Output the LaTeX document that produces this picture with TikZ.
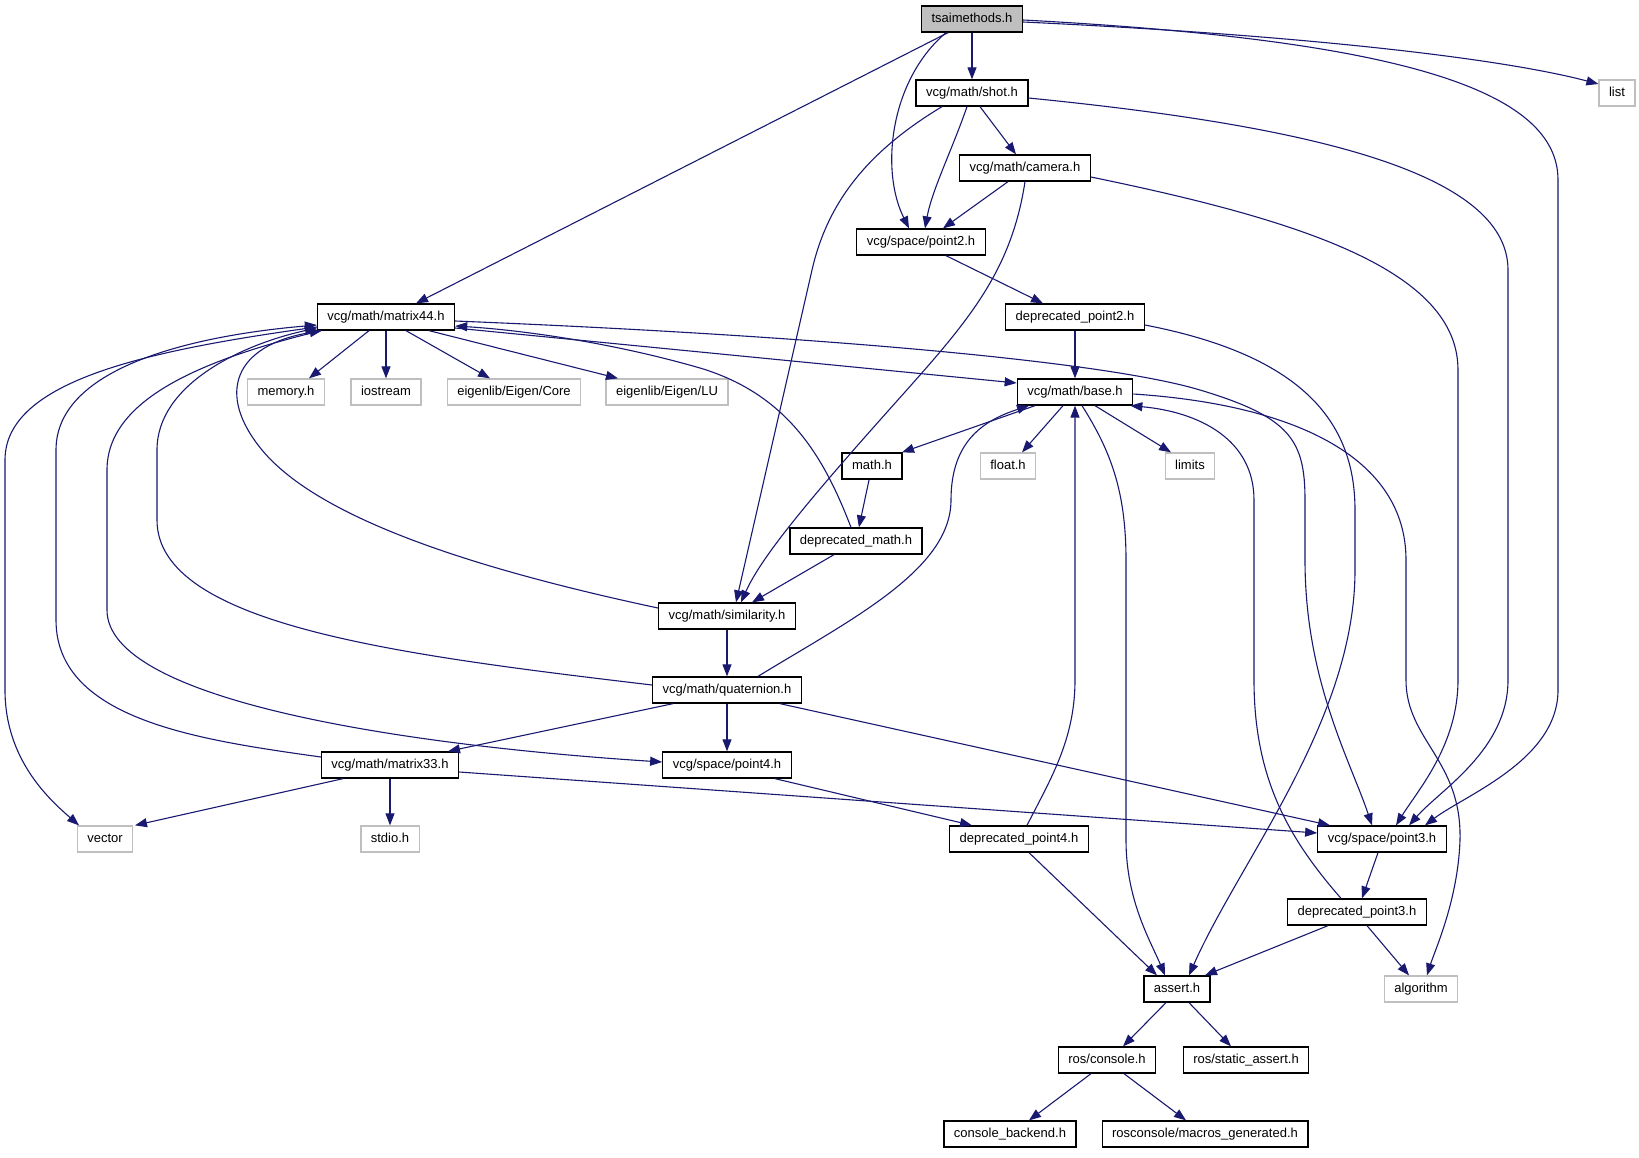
\documentclass[tikz,border=0pt]{standalone}
\usepackage{fontspec}
\setmainfont{Liberation Sans}
\usepackage{xcolor}
\usepackage{tikz}
\usetikzlibrary{arrows.meta}

\definecolor{edgeblue}{HTML}{191970}
\definecolor{sysgray}{HTML}{BFBFBF}

\begin{document}
\begin{tikzpicture}[
    x=1pt, y=-1pt,
    every node/.style={
        draw,
        rectangle,
        minimum height=26pt,
        inner xsep=10pt,
        inner ysep=0pt,
        text height=10pt,
        text depth=3pt,
        line width=1.3pt,
        font=\fontsize{13}{15}\selectfont
    },
    header/.style={fill=sysgray, draw=black},
    local/.style={draw=black},
    system/.style={draw=sysgray},
    incl/.style={draw=edgeblue, line width=1.1pt, -{Triangle[length=12pt,width=9pt]}}
]
\useasboundingbox (0,0) rectangle (1639,1157);

% Files of the graph
\node[header] (tsai) at (972,19) {tsaimethods.h};
\node[local] (shot) at (972,93) {vcg/math/shot.h};
\node[system] (list) at (1617,93) {list};
\node[local] (camera) at (1025,168) {vcg/math/camera.h};
\node[local] (ptwo) at (921,242) {vcg/space/point2.h};
\node[local] (dptwo) at (1075,317) {deprecated\_point2.h};
\node[local] (mfour) at (386,317) {vcg/math/matrix44.h};
\node[system] (memory) at (286,392) {memory.h};
\node[system] (iostream) at (386,392) {iostream};
\node[system] (core) at (514,392) {eigenlib/Eigen/Core};
\node[system] (lu) at (667,392) {eigenlib/Eigen/LU};
\node[local] (base) at (1075,392) {vcg/math/base.h};
\node[local] (mathh) at (872,466) {math.h};
\node[system] (floath) at (1008,466) {float.h};
\node[system] (limits) at (1190,466) {limits};
\node[local] (dmath) at (856,541) {deprecated\_math.h};
\node[local] (simil) at (727,616) {vcg/math/similarity.h};
\node[local] (quat) at (727,690) {vcg/math/quaternion.h};
\node[local] (mthree) at (390,765) {vcg/math/matrix33.h};
\node[local] (pfour) at (727,765) {vcg/space/point4.h};
\node[system] (vector) at (105,839) {vector};
\node[system] (stdio) at (390,839) {stdio.h};
\node[local] (dpfour) at (1019,839) {deprecated\_point4.h};
\node[local] (pthree) at (1382,839) {vcg/space/point3.h};
\node[local] (dpthree) at (1357,912) {deprecated\_point3.h};
\node[local] (assert) at (1177,989) {assert.h};
\node[system] (algorithm) at (1421,989) {algorithm};
\node[local] (console) at (1107,1060) {ros/console.h};
\node[local] (sassert) at (1246,1060) {ros/static\_assert.h};
\node[local] (backend) at (1010,1134) {console\_backend.h};
\node[local] (macros) at (1205,1134) {rosconsole/macros\_generated.h};

% tsaimethods.h
\draw[incl] ([xshift=-24pt]tsai.south) -- ([xshift=30pt]mfour.north);
\draw[incl] (tsai) -- (shot);
\draw[incl] ([xshift=-26pt]tsai.south) .. controls (890,80) and (880,170) .. ([xshift=-12pt]ptwo.north);
\draw[incl] ([yshift=-3pt]tsai.east) .. controls (1300,35) and (1500,58) .. ([yshift=9pt]list.west);
\draw[incl] ([yshift=-1pt]tsai.east) .. controls (1400,40) and (1558,90) .. (1558,180) -- (1558,690)
    .. controls (1558,760) and (1465,795) .. ([xshift=43pt]pthree.north);

% shot.h and camera.h
\draw[incl] ([xshift=8pt]shot.south) -- ([xshift=-9pt]camera.north);
\draw[incl] ([xshift=-5pt]shot.south) .. controls (952,150) and (932,190) .. ([xshift=4pt]ptwo.north);
\draw[incl] ([xshift=-30pt]shot.south) .. controls (870,150) and (828,200) .. (812,270) -- ([xshift=9pt]simil.north);
\draw[incl] ([yshift=-5pt]shot.east) .. controls (1300,125) and (1508,170) .. (1508,270) -- (1508,680)
    .. controls (1508,750) and (1440,790) .. ([xshift=27pt]pthree.north);
\draw[incl] ([xshift=-17pt]camera.south) -- ([xshift=22pt]ptwo.north);
\draw[incl] (camera.south) .. controls (1010,280) and (960,330) .. (880,420)
    .. controls (800,510) and (760,560) .. ([xshift=14pt]simil.north);
\draw[incl] ([yshift=-9pt]camera.east) .. controls (1300,220) and (1458,270) .. (1458,370) -- (1458,680)
    .. controls (1458,745) and (1418,790) .. ([xshift=14pt]pthree.north);

% point2.h
\draw[incl] ([xshift=25pt]ptwo.south) -- ([xshift=-32pt]dptwo.north);
\draw[incl] (dptwo) -- (base);
\draw[incl] ([yshift=-8pt]dptwo.east) .. controls (1300,355) and (1355,420) .. (1355,510) -- (1355,570)
    .. controls (1355,720) and (1240,860) .. ([xshift=12pt]assert.north);

% matrix44.h
\draw[incl] ([xshift=-17pt]mfour.south) -- ([xshift=23pt]memory.north);
\draw[incl] (mfour) -- (iostream);
\draw[incl] ([xshift=20pt]mfour.south) -- ([xshift=-24pt]core.north);
\draw[incl] ([xshift=43pt]mfour.south) -- ([xshift=-49pt]lu.north);
\draw[incl] ([yshift=-11pt]mfour.east) -- ([yshift=9pt]base.west);
\draw[incl] ([yshift=-4pt]mfour.east) .. controls (800,335) and (1100,360) .. (1200,390)
    .. controls (1290,417) and (1305,440) .. (1305,500) -- (1305,560)
    .. controls (1305,680) and (1350,760) .. ([xshift=-10pt]pthree.north);
\draw[incl] ([yshift=-10pt]mfour.west) .. controls (150,350) and (5,380) .. (5,460) -- (5,690)
    .. controls (5,760) and (50,800) .. ([xshift=-26pt]vector.north);
\draw[incl] ([xshift=-65pt]mfour.south) .. controls (200,360) and (107,400) .. (107,470) -- (107,610)
    .. controls (107,700) and (400,745) .. ([yshift=3pt]pfour.west);

% base.h
\draw[incl] ([xshift=-40pt]base.south) -- ([xshift=30pt]mathh.north);
\draw[incl] ([xshift=-12pt]base.south) -- ([xshift=14pt]floath.north);
\draw[incl] ([xshift=20pt]base.south) -- ([xshift=-19pt]limits.north);
\draw[incl] ([xshift=7pt]base.south) .. controls (1110,450) and (1126,490) .. (1126,560) -- (1126,840)
    .. controls (1126,900) and (1150,940) .. ([xshift=-12pt]assert.north);
\draw[incl] ([yshift=-2pt]base.east) .. controls (1300,405) and (1406,460) .. (1406,560) -- (1406,680)
    .. controls (1406,740) and (1462,760) .. (1460,840)
    .. controls (1458,900) and (1435,950) .. ([xshift=6pt]algorithm.north);

% math.h and deprecated_math.h
\draw[incl] (mathh) -- (dmath);
\draw[incl] ([xshift=-5pt]dmath.north) .. controls (825,460) and (790,395) .. (700,368)
    .. controls (610,342) and (520,330) .. ([yshift=-9pt]mfour.east);
\draw[incl] ([xshift=-22pt]dmath.south) -- ([xshift=25pt]simil.north);

% similarity.h and quaternion.h
\draw[incl] ([yshift=8pt]simil.west) .. controls (480,570) and (320,520) .. (262,450)
    .. controls (215,393) and (235,345) .. ([xshift=5pt]mfour.south west);
\draw[incl] (simil) -- (quat);
\draw[incl] ([yshift=5pt]quat.west) .. controls (400,655) and (157,625) .. (157,520) -- (157,450)
    .. controls (157,385) and (240,345) .. ([yshift=-11pt]mfour.west);
\draw[incl] ([xshift=31pt]quat.north) .. controls (850,620) and (951,570) .. (951,500)
    .. controls (951,440) and (985,420) .. ([xshift=-46pt]base.south);
\draw[incl] ([xshift=-54pt]quat.south) -- ([xshift=58pt]mthree.north);
\draw[incl] (quat) -- (pfour);
\draw[incl] ([xshift=53pt]quat.south) -- ([xshift=-52pt]pthree.north);

% matrix33.h
\draw[incl] ([yshift=8pt]mthree.west) .. controls (200,740) and (56,720) .. (56,620) -- (56,450)
    .. controls (56,365) and (200,335) .. ([yshift=-8pt]mfour.west);
\draw[incl] ([xshift=-47pt]mthree.south) -- ([xshift=30pt]vector.north);
\draw[incl] (mthree) -- (stdio);
\draw[incl] ([yshift=-7pt]mthree.east) -- ([yshift=6pt]pthree.west);

% point4.h and point3.h
\draw[incl] ([xshift=48pt]pfour.south) -- ([xshift=-47pt]dpfour.north);
\draw[incl] ([xshift=8pt]dpfour.north) .. controls (1050,780) and (1075,740) .. (1075,680) -- (base.south);
\draw[incl] ([xshift=10pt]dpfour.south) -- ([xshift=-20pt]assert.north);
\draw[incl] ([xshift=-4pt]pthree.south) -- ([xshift=5pt]dpthree.north);
\draw[incl] ([xshift=-16pt]dpthree.north) .. controls (1290,840) and (1254,780) .. (1254,680) -- (1254,500)
    .. controls (1254,440) and (1200,412) .. ([xshift=-3pt]base.south east);
\draw[incl] ([xshift=-29pt]dpthree.south) -- ([xshift=28pt]assert.north);
\draw[incl] ([xshift=10pt]dpthree.south) -- ([xshift=-12pt]algorithm.north);

% assert.h and ros/console.h
\draw[incl] ([xshift=-11pt]assert.south) -- ([xshift=16pt]console.north);
\draw[incl] ([xshift=12pt]assert.south) -- ([xshift=-15pt]sassert.north);
\draw[incl] ([xshift=-16pt]console.south) -- ([xshift=19pt]backend.north);
\draw[incl] ([xshift=17pt]console.south) -- ([xshift=-19pt]macros.north);

\end{tikzpicture}
\end{document}
